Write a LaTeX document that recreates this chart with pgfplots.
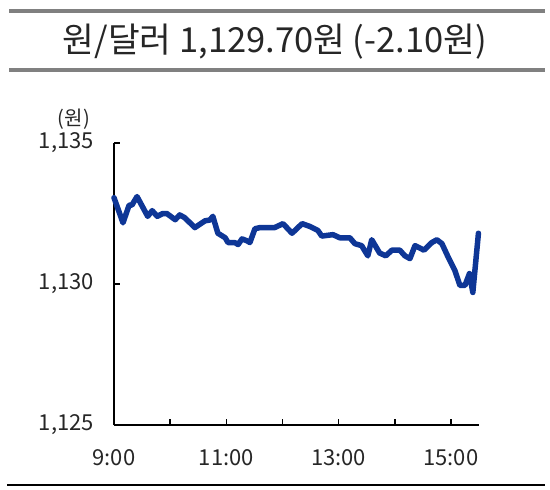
\documentclass[border=0pt]{standalone}
\usepackage{fontspec}
\usepackage{pgfplots}
\pgfplotsset{compat=1.18}
\newfontfamily\korfont{Noto Sans CJK KR}
\definecolor{lineblue}{RGB}{14,54,150}
\definecolor{rulegray}{RGB}{128,128,128}

\begin{document}
\begin{tikzpicture}[x=1bp,y=1bp]
% page frame: 550 x 490 px, origin at top left
\useasboundingbox (0,0) rectangle (550,-490);
\draw[rulegray, line width=4bp] (9,-11) -- (545,-11);
\draw[rulegray, line width=4bp] (9,-70) -- (545,-70);
\draw[black, line width=2bp] (7,-485) -- (545,-485);
\node[font=\korfont\fontsize{34.5bp}{37bp}\selectfont, text=black!85, inner sep=0pt] at (275,-42) {원/달러 1,129.70원 (-2.10원)};
\node[font=\korfont\fontsize{20bp}{22bp}\selectfont, text=black!85, anchor=east, inner sep=0pt] at (90,-119) {(원)};

\begin{axis}[
    at={(114bp,-425bp)}, anchor=south west,
    scale only axis, width=365bp, height=282bp,
    xmin=9, xmax=15.5, ymin=1125, ymax=1135,
    axis x line*=bottom, axis y line*=left,
    axis line style={line width=1.5bp, black},
    tick align=inside, major tick length=6bp,
    tick style={line width=1.5bp, black},
    xtick={9,10,11,12,13,14,15},
    xticklabels={9:00,,11:00,,13:00,,15:00},
    ytick={1125,1130,1135},
    yticklabels={{1,125},{1,130},{1,135}},
    ticklabel style={font=\korfont\fontsize{22bp}{24bp}\selectfont, text=black!85},
    xticklabel style={inner sep=0pt, yshift=-24bp},
    yticklabel style={inner sep=0pt, xshift=-20bp},
    clip=false
]
\addplot[lineblue, line width=5.5bp, line join=round, line cap=round] coordinates {
(9.00,1133.06) (9.16,1132.17) (9.27,1132.80) (9.32,1132.80) (9.41,1133.10)
(9.60,1132.40) (9.68,1132.60) (9.77,1132.40) (9.87,1132.50) (9.94,1132.50)
(10.09,1132.28) (10.17,1132.45) (10.26,1132.35) (10.44,1132.00) (10.62,1132.24)
(10.71,1132.27) (10.76,1132.40) (10.85,1131.80) (10.98,1131.64) (11.03,1131.47)
(11.15,1131.47) (11.21,1131.40) (11.28,1131.60) (11.37,1131.53) (11.42,1131.47)
(11.51,1131.96) (11.60,1132.00) (11.86,1132.00) (12.01,1132.14) (12.17,1131.80)
(12.35,1132.14) (12.49,1132.04) (12.63,1131.90) (12.70,1131.70) (12.90,1131.75)
(13.02,1131.64) (13.20,1131.64) (13.29,1131.43) (13.41,1131.36) (13.52,1131.00)
(13.59,1131.57) (13.73,1131.10) (13.84,1131.00) (13.95,1131.20) (14.09,1131.20)
(14.18,1131.00) (14.27,1130.90) (14.36,1131.36) (14.52,1131.20) (14.66,1131.47)
(14.75,1131.57) (14.84,1131.43) (14.94,1131.00) (15.07,1130.48) (15.16,1129.95)
(15.25,1129.95) (15.33,1130.37) (15.39,1129.70) (15.49,1131.80)
};
\end{axis}
\end{tikzpicture}
\end{document}
